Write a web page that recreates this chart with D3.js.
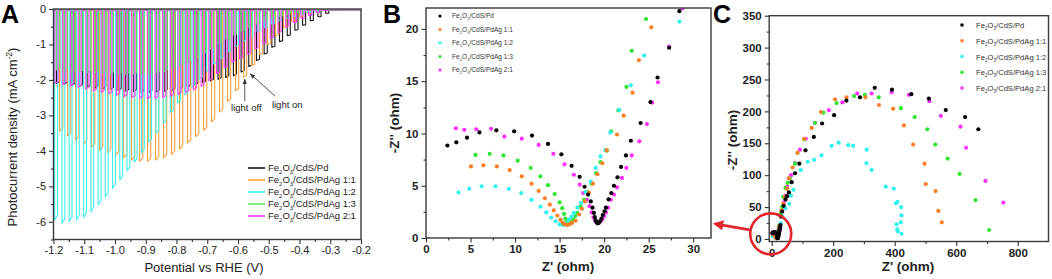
<!DOCTYPE html>
<html>
<head>
<meta charset="utf-8">
<script src="https://cdn.jsdelivr.net/npm/d3@7"></script>
<style>
  body { margin: 0; background: #fff; }
  svg { display: block; font-family: "Liberation Sans", Arial, sans-serif; }
</style>
</head>
<body>
<div id="chart"></div>
<script>
// ---- data ----
const seriesSuffix = ["Pd", "PdAg 1:1", "PdAg 1:2", "PdAg 1:3", "PdAg 2:1"];
const lineColors = ["#151515", "#ffa03c", "#3cf2f2", "#5ee65e", "#ff3cff"];
const dotColors = ["#000000", "#ff7f27", "#30f0f0", "#30e630", "#ff30ff"];

// panel A: chopped-light LSV, photocurrent (mA cm-2) at each light pulse
const chopStart = [-1.19, -1.18, -1.196, -1.19, -1.195];
const chopStep = [0.025, 0.026, 0.0235, 0.025, 0.025];
const photoPd = [-2.1, -2.12, -2.15, -2.18, -2.2, -2.23, -2.25, -2.27, -2.3, -2.32, -2.33, -2.35, -2.35,
  -2.34, -2.32, -2.3, -2.26, -2.2, -2.14, -2.08, -2.03, -1.98, -1.93, -1.88, -1.78, -1.62, -1.45, -1.27,
  -1.08, -0.92, -0.75, -0.6, -0.46, -0.33, -0.22, -0.12, -0.04];
const photo11 = [-3.45, -3.58, -3.7, -3.8, -3.9, -3.98, -4.05, -4.12, -4.2, -4.26, -4.3, -4.3, -4.26, -4.2,
  -4.1, -3.95, -3.78, -3.6, -3.42, -3.18, -2.9, -2.6, -2.3, -1.92, -1.6, -1.28, -1.0, -0.75, -0.52, -0.35,
  -0.22, -0.12, -0.06, -0.02];
const photo12 = [-5.95, -6.05, -6.0, -5.95, -5.88, -5.72, -5.52, -5.3, -5.06, -4.82, -4.56, -4.32, -4.05,
  -3.75, -3.5, -3.22, -2.92, -2.65, -2.42, -2.2, -1.98, -1.75, -1.55, -1.38, -1.2, -1.05, -0.9, -0.76,
  -0.63, -0.52, -0.42, -0.33, -0.26, -0.2, -0.14, -0.1, -0.06, -0.03, -0.01];
const photo13 = [-1.72, -1.74, -1.76, -1.78, -1.79, -1.8, -1.81, -1.82, -1.83, -1.84, -1.84, -1.84, -1.83,
  -1.8, -1.76, -1.7, -1.6, -1.5, -1.38, -1.25, -1.12, -0.98, -0.85, -0.73, -0.62, -0.52, -0.42, -0.34,
  -0.27, -0.2, -0.15, -0.1, -0.07, -0.04, -0.02];
const photo21 = [-2.1, -2.13, -2.17, -2.21, -2.26, -2.31, -2.35, -2.39, -2.43, -2.47, -2.5, -2.52, -2.53,
  -2.52, -2.5, -2.46, -2.41, -2.35, -2.28, -2.18, -2.02, -1.82, -1.65, -1.5, -1.4, -1.28, -1.12, -0.98,
  -0.82, -0.66, -0.5, -0.38, -0.27, -0.18, -0.1, -0.04];
const darkCurrent = -0.03;

// panel B: Nyquist, Z' and -Z'' in ohm
const nyqPd = [[2.4, 8.85], [3.4, 9.15], [4.6, 9.6], [6.0, 10.1], [7.9, 10.3], [9.9, 10.2], [11.9, 9.8],
  [13.7, 9.0], [15.2, 8.0], [16.35, 6.9], [17.25, 5.85], [17.8, 4.9], [18.2, 4.15], [18.5, 3.5], [18.7, 2.9],
  [18.85, 2.4], [18.95, 2.0], [19.05, 1.7], [19.15, 1.5], [19.25, 1.4], [19.4, 1.45], [19.55, 1.6],
  [19.7, 1.85], [19.85, 2.2], [20.05, 2.55], [20.2, 2.9], [20.5, 3.7], [20.8, 4.3], [21.1, 5.0], [21.5, 5.8],
  [21.9, 6.8], [22.45, 7.9], [23.0, 9.3], [24.1, 11.0], [25.2, 13.0], [26.0, 15.35], [27.3, 18.2], [28.45, 21.7]];
const nyq11 = [[5.05, 6.85], [6.45, 6.95], [7.95, 6.85], [9.4, 6.5], [10.75, 5.9], [11.85, 5.2], [12.65, 4.5],
  [13.35, 3.8], [13.9, 3.2], [14.35, 2.65], [14.75, 2.15], [15.1, 1.75], [15.35, 1.45], [15.6, 1.3],
  [15.85, 1.25], [16.1, 1.3], [16.4, 1.45], [16.8, 1.65], [17.2, 2.25], [17.5, 2.8], [17.85, 3.5],
  [18.3, 4.35], [18.75, 5.2], [19.25, 6.1], [19.8, 7.15], [20.3, 8.4], [21.45, 9.9], [22.2, 11.7],
  [23.2, 13.9], [23.9, 17.0], [25.3, 20.15]];
const nyq12 = [[3.65, 4.35], [4.85, 4.7], [6.25, 4.95], [7.8, 4.95], [9.3, 4.7], [10.7, 4.3], [11.85, 3.65],
  [12.85, 3.0], [13.5, 2.45], [14.05, 1.95], [14.55, 1.6], [15.0, 1.3], [15.4, 1.25], [15.8, 1.4],
  [16.05, 1.75], [16.35, 2.05], [16.6, 2.4], [17.0, 2.9], [17.4, 3.35], [17.9, 4.4], [18.5, 5.4],
  [19.05, 6.7], [19.6, 7.8], [20.15, 8.4], [20.7, 10.1], [21.7, 12.25], [23.0, 14.6], [24.5, 17.45],
  [28.45, 20.7]];
const nyq13 = [[5.55, 7.95], [7.15, 8.05], [8.7, 7.9], [10.3, 7.4], [11.75, 6.7], [12.85, 5.9], [13.7, 5.05],
  [14.45, 4.2], [15.0, 3.4], [15.3, 2.85], [15.5, 2.3], [15.65, 1.85], [15.8, 1.5], [15.95, 1.35],
  [16.1, 1.35], [16.3, 1.5], [16.5, 1.75], [16.75, 2.1], [17.0, 2.4], [17.35, 3.0], [17.75, 3.65],
  [18.1, 4.4], [18.6, 5.2], [19.1, 6.2], [19.6, 7.25], [20.3, 8.35], [20.8, 10.2], [21.6, 12.2],
  [22.5, 14.45], [23.1, 17.9], [24.7, 20.95]];
const nyq21 = [[3.35, 10.5], [4.3, 10.35], [5.65, 10.4], [7.3, 10.45], [8.8, 9.7], [10.75, 9.5], [12.65, 8.9],
  [14.3, 8.05], [15.55, 7.05], [16.6, 6.05], [17.25, 5.1], [17.65, 4.3], [18.05, 3.65], [18.35, 3.05],
  [18.6, 2.45], [18.8, 1.95], [19.0, 1.65], [19.2, 1.5], [19.4, 1.45], [19.6, 1.6], [19.8, 1.8], [20.0, 2.1],
  [20.2, 2.45], [20.45, 2.9], [20.75, 3.65], [21.1, 4.15], [21.45, 4.85], [22.0, 5.75], [22.5, 6.7],
  [23.1, 7.9], [23.95, 9.25], [24.8, 10.9], [25.4, 12.95], [26.05, 14.9], [27.3, 18.3], [28.8, 21.95]];

// panel C: low-frequency part of the same spectra
const widePd = [[30, 35], [34, 43], [39, 52], [45, 62], [50, 67], [56, 73], [65, 89], [76, 103], [90, 118],
  [110, 139], [137, 160], [164, 181], [203, 194], [243, 217], [287, 222], [335, 237], [391, 234], [454, 227],
  [511, 220], [566, 202], [629, 191], [672, 172]];
const wide11 = [[32, 45], [38, 55], [43, 66], [50, 79], [56, 95], [68, 112], [84, 135], [106, 157], [130, 174],
  [160, 199], [206, 219], [243, 222], [305, 222], [349, 210], [395, 204], [430, 178], [460, 148], [497, 118],
  [501, 86], [533, 75], [542, 44], [553, 26]];
const wide12 = [[30, 25], [35, 35], [45, 48], [57, 55], [63, 68], [71, 77], [95, 108], [117, 121], [138, 124],
  [162, 131], [195, 146], [218, 151], [249, 147], [265, 146], [309, 140], [308, 119], [325, 108], [371, 82],
  [397, 79], [404, 56], [409, 58], [421, 50], [422, 37], [420, 26], [406, 23], [408, 15], [410, 12], [422, 8]];
const wide13 = [[30, 40], [34, 50], [38, 66], [45, 80], [52, 88], [59, 95], [76, 118], [84, 135], [106, 156],
  [141, 182], [168, 198], [211, 213], [268, 224], [303, 226], [348, 222], [420, 205], [465, 191], [506, 172],
  [532, 148], [572, 126], [611, 102], [663, 61], [707, 14]];
const wide21 = [[33, 42], [36, 48], [40, 57], [45, 68], [50, 82], [57, 95], [63, 100], [76, 119], [92, 140],
  [111, 157], [141, 182], [186, 202], [230, 214], [278, 228], [325, 228], [390, 230], [446, 226], [513, 216],
  [550, 193], [614, 176], [632, 143], [695, 91], [753, 57]];

// tick values
const aXTicks = [-1.2, -1.1, -1.0, -0.9, -0.8, -0.7, -0.6, -0.5, -0.4, -0.3, -0.2];
const aXMinor = [-1.15, -1.05, -0.95, -0.85, -0.75, -0.65, -0.55, -0.45, -0.35, -0.25];
const aYTicks = [0, -1, -2, -3, -4, -5, -6];
const aYMinor = [-0.5, -1.5, -2.5, -3.5, -4.5, -5.5, -6.5];
const bXTicks = [0, 5, 10, 15, 20, 25, 30];
const bXMinor = [2.5, 7.5, 12.5, 17.5, 22.5, 27.5];
const bYTicks = [0, 5, 10, 15, 20];
const bYMinor = [2.5, 7.5, 12.5, 17.5];
const cXTicks = [0, 200, 400, 600, 800];
const cXMinor = [100, 300, 500, 700];
const cYTicks = [0, 50, 100, 150, 200, 250, 300, 350];
const cYMinor = [25, 75, 125, 175, 225, 275, 325];

const photo = [photoPd, photo11, photo12, photo13, photo21];
const nyq = [nyqPd, nyq11, nyq12, nyq13, nyq21];
const wide = [widePd, wide11, wide12, wide13, wide21];

// ---- chart ----
const W = 1052, H = 279;
const svg = d3.select("#chart").append("svg").attr("width", W).attr("height", H);
const defs = svg.append("defs");

function drawAxes(id, x, y, o) {
  const [x0, x1] = x.range(), [y0, y1] = y.range();
  const g = svg.append("g").attr("class", "axes-" + id);
  const parts = [
    [d3.axisBottom(x).tickValues(o.xMinor).tickSize(2.5).tickFormat(""), `translate(0,${y0})`],
    [d3.axisBottom(x).tickValues(o.xMajor).tickSize(4.5).tickPadding(2.5).tickFormat(o.xFmt), `translate(0,${y0})`],
    [d3.axisLeft(y).tickValues(o.yMinor).tickSize(2.5).tickFormat(""), `translate(${x0},0)`],
    [d3.axisLeft(y).tickValues(o.yMajor).tickSize(4.5).tickPadding(3).tickFormat(o.yFmt), `translate(${x0},0)`]
  ];
  parts.forEach(([ax, tr]) => {
    const a = g.append("g").attr("transform", tr).call(ax)
      .attr("font-family", null).attr("font-size", o.fontSize).attr("font-weight", o.weight);
    a.select(".domain").remove();
    a.selectAll(".tick line").attr("stroke", "#333").attr("stroke-width", 1.1);
    a.selectAll(".tick text").attr("fill", "#222");
  });
  defs.append("clipPath").attr("id", "clip-" + id)
    .append("rect").attr("x", x0).attr("y", y1).attr("width", x1 - x0).attr("height", y0 - y1);
  return () => svg.append("rect")
    .attr("x", x0).attr("y", y1).attr("width", x1 - x0).attr("height", y0 - y1)
    .attr("fill", "none").attr("stroke", "#3a3a3a").attr("stroke-width", 1.4);
}

function feLabel(text, suffix, fs) {
  text.append("tspan").text("Fe");
  text.append("tspan").attr("font-size", fs * 0.62).attr("dy", fs * 0.28).text("2");
  text.append("tspan").attr("dy", -fs * 0.28).text("O");
  text.append("tspan").attr("font-size", fs * 0.62).attr("dy", fs * 0.28).text("3");
  text.append("tspan").attr("dy", -fs * 0.28).text("/CdS/" + suffix);
}

// ===== Panel A =====
const xA = d3.scaleLinear().domain([-1.2, -0.2]).range([53.5, 361]);
const yA = d3.scaleLinear().domain([-6.5, 0]).range([239.5, 9]);
const frameA = drawAxes("A", xA, yA, {
  xMajor: aXTicks, xMinor: aXMinor, yMajor: aYTicks, yMinor: aYMinor,
  xFmt: d => d.toFixed(1), yFmt: d => String(d), fontSize: 11, weight: "normal"
});

const lineA = d3.line().x(d => xA(d[0])).y(d => yA(d[1]));
const tracesA = svg.append("g").attr("clip-path", "url(#clip-A)");
photo.forEach((levels, s) => {
  const step = chopStep[s], lit = step * 0.4;
  const pts = [[-1.2, darkCurrent]];
  levels.forEach((j, i) => {
    const v = chopStart[s] + i * step;
    pts.push([v, darkCurrent], [v, j], [v + lit, j * 0.975], [v + lit, darkCurrent]);
  });
  pts.push([-0.2, darkCurrent]);
  tracesA.append("path").attr("d", lineA(pts))
    .attr("fill", "none").attr("stroke", lineColors[s]).attr("stroke-width", 1.1)
    .attr("stroke-linejoin", "round");
});
frameA();

// light on / off annotation
defs.append("marker").attr("id", "arrowGray").attr("viewBox", "0 0 10 10")
  .attr("refX", 9).attr("refY", 5).attr("markerWidth", 6).attr("markerHeight", 6)
  .attr("orient", "auto-start-reverse")
  .append("path").attr("d", "M0,1L10,5L0,9z").attr("fill", "#333");
svg.append("line").attr("x1", xA(-0.578)).attr("y1", yA(-2.6)).attr("x2", xA(-0.578)).attr("y2", yA(-1.98))
  .attr("stroke", "#444").attr("stroke-width", 0.9).attr("marker-end", "url(#arrowGray)");
svg.append("line").attr("x1", xA(-0.48)).attr("y1", yA(-2.45)).attr("x2", xA(-0.56)).attr("y2", yA(-1.83))
  .attr("stroke", "#444").attr("stroke-width", 0.9).attr("marker-end", "url(#arrowGray)");
svg.append("text").attr("x", xA(-0.573)).attr("y", yA(-2.88)).attr("text-anchor", "middle")
  .attr("font-size", 9.5).attr("fill", "#222").text("light off");
svg.append("text").attr("x", xA(-0.44)).attr("y", yA(-2.8)).attr("text-anchor", "middle")
  .attr("font-size", 9.5).attr("fill", "#222").text("light on");

// legend A
const rowsA = d3.scalePoint().domain(d3.range(5)).range([168, 216]);
const legA = svg.append("g");
seriesSuffix.forEach((sfx, i) => {
  legA.append("line").attr("x1", 248).attr("x2", 265).attr("y1", rowsA(i)).attr("y2", rowsA(i))
    .attr("stroke", lineColors[i]).attr("stroke-width", 1.6);
  const t = legA.append("text").attr("x", 268).attr("y", rowsA(i) + 3.3)
    .attr("font-size", 9.5).attr("fill", "#222");
  feLabel(t, sfx, 9.5);
});

// titles A
svg.append("text").attr("x", 204).attr("y", 272).attr("text-anchor", "middle")
  .attr("font-size", 13).attr("fill", "#222").text("Potential vs RHE (V)");
const yTitleA = svg.append("text").attr("transform", "translate(17,137) rotate(-90)")
  .attr("text-anchor", "middle").attr("font-size", 13).attr("fill", "#222");
yTitleA.append("tspan").text("Photocurrent density (mA cm");
yTitleA.append("tspan").attr("font-size", 8.5).attr("dy", -5).text("-2");
yTitleA.append("tspan").attr("dy", 5).text(")");
svg.append("text").attr("x", 1).attr("y", 23).attr("font-size", 25).attr("font-weight", "bold").text("A");

// ===== Panel B =====
const xB = d3.scaleLinear().domain([0, 32]).range([426, 711]);
const yB = d3.scaleLinear().domain([0, 22]).range([238, 8]);
const frameB = drawAxes("B", xB, yB, {
  xMajor: bXTicks, xMinor: bXMinor, yMajor: bYTicks, yMinor: bYMinor,
  xFmt: d => String(d), yFmt: d => String(d), fontSize: 11.5, weight: "bold"
});
// drawn last series first so Pd sits on top, as in the original
const order = [4, 3, 2, 1, 0];
const dotsB = svg.append("g").attr("clip-path", "url(#clip-B)");
order.forEach(s => {
  dotsB.selectAll(null).data(nyq[s]).join("circle")
    .attr("cx", d => xB(d[0])).attr("cy", d => yB(d[1])).attr("r", 2.1)
    .attr("fill", dotColors[s]);
});
frameB();

const rowsB = d3.scalePoint().domain(d3.range(5)).range([16, 70]);
seriesSuffix.forEach((sfx, i) => {
  svg.append("circle").attr("cx", 440).attr("cy", rowsB(i)).attr("r", 1.6).attr("fill", dotColors[i]);
  const t = svg.append("text").attr("x", 452).attr("y", rowsB(i) + 2.4)
    .attr("font-size", 6.6).attr("fill", "#333");
  feLabel(t, sfx, 6.6);
});
svg.append("text").attr("x", 568).attr("y", 271).attr("text-anchor", "middle")
  .attr("font-size", 13.5).attr("font-weight", "bold").attr("fill", "#222").text("Z' (ohm)");
svg.append("text").attr("transform", "translate(399,123) rotate(-90)").attr("text-anchor", "middle")
  .attr("font-size", 13.5).attr("font-weight", "bold").attr("fill", "#222").text("-Z'' (ohm)");
svg.append("text").attr("x", 383).attr("y", 23).attr("font-size", 25).attr("font-weight", "bold").text("B");

// ===== Panel C =====
const xC = d3.scaleLinear().domain([-8, 900]).range([769.2, 1048.5]);
const yC = d3.scaleLinear().domain([-4, 350]).range([241.5, 15.7]);
const frameC = drawAxes("C", xC, yC, {
  xMajor: cXTicks, xMinor: cXMinor, yMajor: cYTicks, yMinor: cYMinor,
  xFmt: d => String(d), yFmt: d => String(d), fontSize: 11.5, weight: "bold"
});
const dotsC = svg.append("g").attr("clip-path", "url(#clip-C)");
order.forEach(s => {
  dotsC.selectAll(null).data(nyq[s].concat(wide[s])).join("circle")
    .attr("cx", d => xC(d[0])).attr("cy", d => yC(d[1])).attr("r", 2.1)
    .attr("fill", dotColors[s]);
});
frameC();

const rowsC = d3.scalePoint().domain(d3.range(5)).range([25, 88]);
seriesSuffix.forEach((sfx, i) => {
  svg.append("circle").attr("cx", 962).attr("cy", rowsC(i)).attr("r", 1.8).attr("fill", dotColors[i]);
  const t = svg.append("text").attr("x", 976).attr("y", rowsC(i) + 3)
    .attr("font-size", 7.6).attr("fill", "#333");
  feLabel(t, sfx, 7.6);
});
svg.append("text").attr("x", 908).attr("y", 271).attr("text-anchor", "middle")
  .attr("font-size", 13.5).attr("font-weight", "bold").attr("fill", "#222").text("Z' (ohm)");
svg.append("text").attr("transform", "translate(737,140) rotate(-90)").attr("text-anchor", "middle")
  .attr("font-size", 13.5).attr("font-weight", "bold").attr("fill", "#222").text("-Z'' (ohm)");
svg.append("text").attr("x", 713).attr("y", 23).attr("font-size", 25).attr("font-weight", "bold").text("C");

// red zoom marker linking C back to B
defs.append("marker").attr("id", "arrowRed").attr("viewBox", "0 0 10 10")
  .attr("refX", 8).attr("refY", 5).attr("markerWidth", 4).attr("markerHeight", 4)
  .attr("orient", "auto-start-reverse")
  .append("path").attr("d", "M0,0L10,5L0,10z").attr("fill", "#e3262b");
const cx = xC(-3), cy = yC(8);
svg.append("circle").attr("cx", cx).attr("cy", cy).attr("r", 20.5)
  .attr("fill", "none").attr("stroke", "#e3262b").attr("stroke-width", 2.6);
svg.append("line").attr("x1", cx - 21).attr("y1", cy - 4).attr("x2", xB(32) + 4).attr("y2", cy - 10)
  .attr("stroke", "#e3262b").attr("stroke-width", 2.6).attr("marker-end", "url(#arrowRed)");
</script>
</body>
</html>
